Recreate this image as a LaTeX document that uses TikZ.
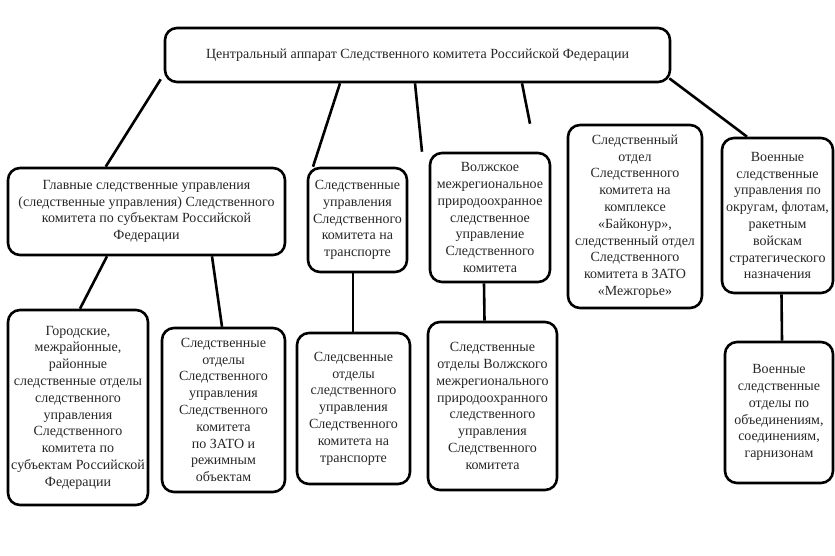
\documentclass[tikz,border=0pt]{standalone}
\usepackage{fontspec}
\setmainfont{Liberation Serif}
\tikzset{
unit/.style={draw, line width=2.6pt, rounded corners=12pt, align=center,
  inner sep=1pt, text=black!85, font=\fontsize{14}{16.8}\selectfont},
link/.style={line width=2.6pt}
}

\begin{document}
\begin{tikzpicture}[x=1pt,y=-1pt]
  \useasboundingbox (0,0) rectangle (835,555);
  % top level
  \node[unit, minimum width=505pt, minimum height=54pt] (central) at (417.5,55)
    {Центральный аппарат Следственного комитета Российской Федерации};
  % second level
  \node[unit, minimum width=277pt, minimum height=87pt] (glav) at (146.5,211.5)
    {Главные следственные управления\\(следственные управления) Следственного\\комитета по субъектам Российской\\Федерации};
  \node[unit, minimum width=99pt, minimum height=104pt] (transup) at (357.5,220)
    {Следственные\\управления\\Следственного\\комитета на\\транспорте};
  \node[unit, minimum width=120pt, minimum height=129pt] (volgaup) at (490,217.5)
    {Волжское\\межрегиональное\\природоохранное\\следственное\\управление\\Следственного\\комитета};
  \node[unit, minimum width=134pt, minimum height=183pt] (baik) at (635,216.5)
    {Следственный\\отдел\\Следственного\\комитета на\\комплексе\\«Байконур»,\\следственный отдел\\Следственного\\комитета в ЗАТО\\«Межгорье»};
  \node[unit, minimum width=111pt, minimum height=155pt] (milup) at (777.5,215.5)
    {Военные\\следственные\\управления по\\округам, флотам,\\ракетным\\войскам\\стратегического\\назначения};
  % third level
  \node[unit, minimum width=140pt, minimum height=195pt] (gorod) at (78,407.5)
    {Городские,\\межрайонные,\\районные\\следственные отделы\\следственного\\управления\\Следственного\\комитета по\\субъектам Российской\\Федерации};
  \node[unit, minimum width=123pt, minimum height=164pt] (zato) at (223.5,410)
    {Следственные\\отделы\\Следственного\\управления\\Следственного\\комитета\\по ЗАТО и\\режимным\\объектам};
  \node[unit, minimum width=113pt, minimum height=151pt] (translow) at (353.5,408.5)
    {Следсвенные\\отделы\\следственного\\управления\\Следственного\\комитета на\\транспорте};
  \node[unit, minimum width=129pt, minimum height=168pt] (volgalow) at (492.5,406)
    {Следственные\\отделы Волжского\\межрегионального\\природоохранного\\следственного\\управления\\Следственного\\комитета};
  \node[unit, minimum width=108pt, minimum height=141pt] (millow) at (779,412.5)
    {Военные\\следственные\\отделы по\\объединениям,\\соединениям,\\гарнизонам};
  % links
  \draw[link] ([shift={(-3,-4)}]central.south west) -- ([xshift=99pt]glav.north west);
  \draw[link] ([xshift=-77.5pt]central.south) -- ([xshift=-44.5pt]transup.north);
  \draw[link] ([xshift=-2.5pt]central.south) -- ([xshift=-68pt]volgaup.north);
  \draw[link] ([xshift=104.5pt]central.south) -- ([xshift=-105pt]baik.north);
  \draw[link] ([shift={(-2,-5)}]central.south east) -- ([xshift=-30.5pt]milup.north);
  \draw[link] ([xshift=-39.5pt]glav.south) -- ([xshift=2pt]gorod.north);
  \draw[link] ([xshift=65.5pt]glav.south) -- ([xshift=-1.5pt]zato.north);
  \draw[link] ([xshift=-4.5pt]transup.south) -- ([xshift=-0.5pt]translow.north);
  \draw[link] ([xshift=-6pt]volgaup.south) -- ([xshift=-8pt]volgalow.north);
  \draw[link] ([xshift=4pt]milup.south) -- ([xshift=3pt]millow.north);
\end{tikzpicture}
\end{document}
